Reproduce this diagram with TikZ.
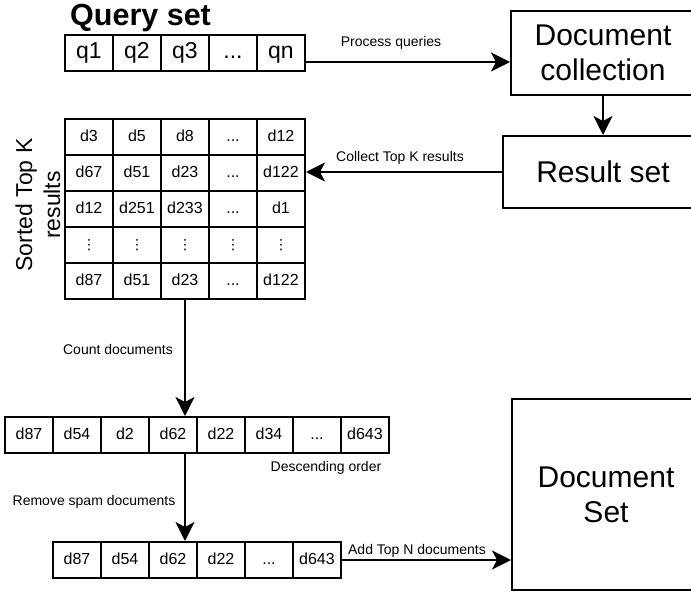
\documentclass[tikz,border=0pt]{standalone}
\usepackage{fontspec}
\setmainfont{Liberation Sans}
\newfontfamily\symfont{DejaVu Sans}
\usetikzlibrary{arrows.meta}
\newcommand\tdots{...}
\newcommand\vdotsym{{\symfont\fontsize{14}{16}\selectfont ⋮}}
\begin{document}
\begin{tikzpicture}[x=1pt,y=-1pt,
  box/.style={draw, line width=2pt, inner sep=0pt, align=center,
    font=\fontsize{30}{35}\selectfont},
  qcell/.style={draw, line width=2pt, minimum width=48pt, minimum height=36pt,
    inner sep=0pt, text height=16.5pt, text depth=4.8pt,
    font=\fontsize{23}{27}\selectfont},
  dcell/.style={draw, line width=2pt, minimum width=48pt, minimum height=36pt,
    inner sep=0pt, text height=11.5pt, text depth=3.4pt,
    font=\fontsize{16}{19}\selectfont},
  lbl/.style={inner sep=0pt, font=\fontsize{14}{17}\selectfont},
  arr/.style={line width=2pt, -{Stealth[length=19pt,width=19pt,inset=5pt]}}
]
\clip (0,0) rectangle (691,594);

% query row
\node[anchor=base west, inner sep=0pt, font=\fontsize{30.5}{36}\selectfont\bfseries] (qt) at (70,26) {Query set};
\foreach \t [count=\i] in {q1,q2,q3,\tdots,qn}
  \node[qcell] (q\i) at ({41+48*\i},53) {\t};

% right-hand boxes
\node[box, minimum width=184pt, minimum height=84pt] (dc) at (603,53) {Document\\collection};
\node[box, minimum width=200pt, minimum height=72pt] (rs) at (603,172) {Result set};
\node[box, minimum width=188pt, minimum height=191pt] (ds) at (606,494.5) {Document\\Set};

% sorted top-k grid
\foreach \r/\row in {1/{d3,d5,d8,\tdots,d12},
                     2/{d67,d51,d23,\tdots,d122},
                     3/{d12,d251,d233,\tdots,d1},
                     4/{\vdotsym,\vdotsym,\vdotsym,\vdotsym,\vdotsym},
                     5/{d87,d51,d23,\tdots,d122}}
  \foreach \t [count=\c] in \row
    \node[dcell] (g\r\c) at ({41+48*\c},{101+36*\r}) {\t};
\node[rotate=90, align=center, inner sep=0pt, font=\fontsize{23}{28}\selectfont] (st) at (38,205) {Sorted Top K\\results};

% counted documents
\foreach \t [count=\i] in {d87,d54,d2,d62,d22,d34,\tdots,d643}
  \node[dcell] (m\i) at ({-19+48*\i},435) {\t};

% after spam removal
\foreach \t [count=\i] in {d87,d54,d62,d22,\tdots,d643}
  \node[dcell] (b\i) at ({29+48*\i},560) {\t};

% connectors
\draw[arr] ([yshift=-9pt]q5.east) -- ([yshift=-9pt]q5.east -| dc.west);
\node[lbl] (l1) at (391,43) {Process queries};
\draw[arr] (dc.south) -- (rs.north);
\draw[arr] (rs.west) -- (rs.west -| g25.east);
\node[lbl] (l2) at (400,158) {Collect Top K results};
\draw[arr] (g53.south) -- (g53.south |- m4.north);
\node[lbl] (l3) at (118,349) {Count documents};
\node[lbl] (l4) at (326,468) {Descending order};
\draw[arr] (g53.south |- m4.south) -- (g53.south |- b3.north);
\node[lbl] (l5) at (94,502) {Remove spam documents};
\draw[arr] (b6.east) -- (b6.east -| ds.west);
\node[lbl] (l6) at (417,551) {Add Top N documents};
\end{tikzpicture}
\end{document}
